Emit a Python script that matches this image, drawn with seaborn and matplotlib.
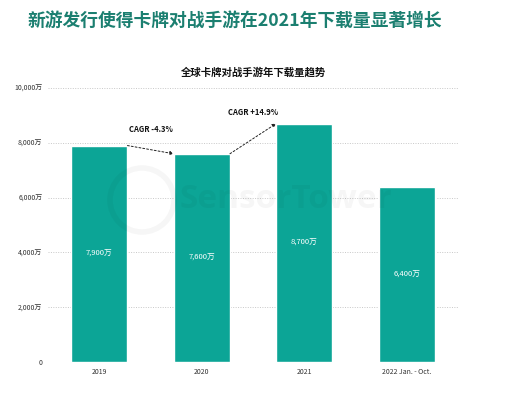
import pandas as pd
import seaborn as sns
import matplotlib.pyplot as plt
from matplotlib.patches import Ellipse

years = ["2019", "2020", "2021", "2022 Jan. - Oct."]
downloads = [7900, 7600, 8700, 6400]  # 万
bar_labels = ["7,900万", "7,600万", "8,700万", "6,400万"]
yticks = [0, 2000, 4000, 6000, 8000, 10000]
ytick_labels = ["0", "2,000万", "4,000万", "6,000万", "8,000万", "10,000万"]
cagr_labels = ["CAGR -4.3%", "CAGR +14.9%"]

data = pd.DataFrame({"year": years, "downloads": downloads})

sns.set_style("white")
plt.rcParams["font.family"] = ["Noto Sans CJK SC", "DejaVu Sans"]

fig = plt.figure(figsize=(5.26, 4.0), dpi=100)
ax = fig.add_axes([0.0913, 0.095, 0.7794, 0.685])

sns.barplot(data=data, x="year", y="downloads", color="#0ca596",
            width=0.55, saturation=1, ax=ax, zorder=3)

ax.set_xlim(-0.5, 3.5)
ax.set_ylim(0, 10000)
ax.set_yticks(yticks)
ax.set_yticklabels(ytick_labels)
ax.tick_params(axis="both", labelsize=5, length=0, colors="#333333", pad=4)
ax.grid(axis="y", linestyle=(0, (1, 1.5)), color="#c8c8c8", linewidth=0.7, zorder=0)
for s in ax.spines.values():
    s.set_visible(False)
ax.set_xlabel("")
ax.set_ylabel("")

# labels inside bars
for i, v in enumerate(downloads):
    ax.text(i, v / 2, bar_labels[i], ha="center", va="center",
            color="white", fontsize=5.5, zorder=4)

# CAGR arrows between bar tops
hw = 0.55 / 2
for i in range(2):
    ax.annotate("", xy=(i + 1 - hw, downloads[i + 1]), xytext=(i + hw, downloads[i]),
                arrowprops=dict(arrowstyle="-|>", linestyle=(0, (2, 2)), color="#222222",
                                linewidth=0.7, mutation_scale=5, shrinkA=0, shrinkB=0),
                zorder=5)
ax.text(0.5, 8500, cagr_labels[0], ha="center", va="center", fontsize=5.5,
        fontweight="bold", color="#111111")
ax.text(1.5, 9120, cagr_labels[1], ha="center", va="center", fontsize=5.5,
        fontweight="bold", color="#111111")

# faint watermark
fig.text(0.544, 0.5, "SensorTower", ha="center", va="center", fontsize=24,
         fontweight="bold", color="#000000", alpha=0.035,
         family=["Open Sans", "DejaVu Sans"], zorder=10)
fig.patches.append(Ellipse((142 / 526, 0.5), 64 / 526, 64 / 400, transform=fig.transFigure,
                           fill=False, edgecolor="#000000", alpha=0.035, linewidth=4,
                           zorder=10))

fig.text(0.053, 0.948, "新游发行使得卡牌对战手游在2021年下载量显著增长", ha="left", va="center",
         fontsize=12.8, fontweight="bold", color="#1b7f70")
fig.text(0.482, 0.82, "全球卡牌对战手游年下载量趋势", ha="center", va="center",
         fontsize=7.5, fontweight="bold", color="#111111")

plt.savefig("out.png", dpi=100)
